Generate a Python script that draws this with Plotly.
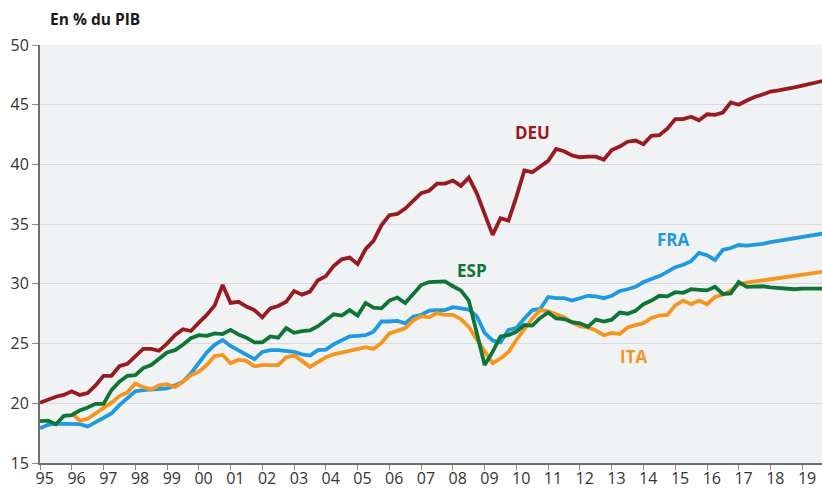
import plotly.graph_objects as go

# Quarterly series, 1995Q1 onwards, in % of GDP
start_year = 1995
n_quarters = 100

deu = [20.05, 20.3, 20.55, 20.7, 21.0, 20.7, 20.85, 21.5, 22.3, 22.3,
       23.1, 23.3, 23.9, 24.55, 24.55, 24.4, 25.0, 25.7, 26.2, 26.05,
       26.75, 27.4, 28.2, 29.9, 28.4, 28.5, 28.1, 27.8, 27.2, 27.95,
       28.15, 28.5, 29.4, 29.1, 29.35, 30.3, 30.65, 31.5, 32.05, 32.2,
       31.65, 32.9, 33.6, 34.9, 35.75, 35.85, 36.3, 36.9, 37.6, 37.8,
       38.4, 38.4, 38.65, 38.2, 38.9, 37.6, 35.9, 34.1, 35.5, 35.3,
       37.3, 39.5, 39.35, 39.85, 40.3, 41.3, 41.1, 40.75, 40.6, 40.65,
       40.65, 40.4, 41.2, 41.5, 41.9, 42.0, 41.7, 42.4, 42.45, 43.0,
       43.8, 43.8, 44.0, 43.7, 44.2, 44.15, 44.35, 45.2, 45.0, 45.35,
       45.65, 45.85, 46.1, 46.2, 46.3, 46.45, 46.6, 46.75, 46.9, 47.05]

fra = [17.9, 18.2, 18.3, 18.3, 18.25, 18.25, 18.05, 18.4, 18.75, 19.15,
       19.85, 20.4, 21.0, 21.1, 21.15, 21.25, 21.25, 21.5, 21.8, 22.5,
       23.35, 24.25, 24.9, 25.3, 24.8, 24.45, 24.05, 23.7, 24.3, 24.45,
       24.45, 24.4, 24.3, 24.1, 24.0, 24.45, 24.5, 24.95, 25.3, 25.6,
       25.65, 25.7, 26.0, 26.85, 26.85, 26.9, 26.7, 27.25, 27.4, 27.75,
       27.8, 27.8, 28.05, 27.95, 27.85, 27.3, 25.9, 25.25, 25.1, 26.15,
       26.3, 27.1, 27.8, 27.9, 28.9, 28.8, 28.8, 28.6, 28.8, 29.0,
       28.95, 28.8, 29.0, 29.4, 29.55, 29.75, 30.15, 30.4, 30.65, 31.0,
       31.4, 31.6, 31.9, 32.6, 32.4, 32.0, 32.85, 33.0, 33.25, 33.2,
       33.25, 33.35, 33.5, 33.6, 33.7, 33.8, 33.95, 34.05, 34.15, 34.25]

esp = [18.5, 18.55, 18.25, 18.95, 19.0, 19.4, 19.65, 19.95, 19.95, 21.1,
       21.8, 22.3, 22.35, 22.95, 23.2, 23.75, 24.25, 24.45, 24.9, 25.45,
       25.7, 25.65, 25.85, 25.8, 26.15, 25.75, 25.5, 25.1, 25.1, 25.6,
       25.5, 26.3, 25.9, 26.05, 26.1, 26.45, 26.95, 27.45, 27.35, 27.8,
       27.35, 28.4, 28.0, 27.95, 28.6, 28.85, 28.4, 29.2, 29.9, 30.15,
       30.2, 30.2, 29.8, 29.45, 28.6, 26.0, 23.2, 24.3, 25.6, 25.7,
       26.0, 26.55, 26.5, 27.15, 27.6, 27.1, 27.05, 26.8, 26.7, 26.4,
       27.0, 26.85, 27.0, 27.6, 27.5, 27.75, 28.3, 28.6, 29.0, 28.95,
       29.3, 29.25, 29.55, 29.5, 29.45, 29.75, 29.15, 29.2, 30.15, 29.75,
       29.75, 29.8, 29.7, 29.65, 29.6, 29.55, 29.6, 29.6, 29.6, 29.6]

# Italy series begins in 1996Q1
ita = [None, None, None, None,
       19.2, 18.55, 18.7, 19.15, 19.6, 20.05,
       20.6, 20.9, 21.65, 21.35, 21.15, 21.5, 21.6, 21.35, 21.8, 22.35,
       22.65, 23.2, 23.95, 24.05, 23.35, 23.65, 23.55, 23.1, 23.2, 23.2,
       23.2, 23.85, 24.0, 23.55, 23.05, 23.45, 23.85, 24.1, 24.25, 24.4,
       24.55, 24.7, 24.55, 25.05, 25.85, 26.1, 26.3, 26.95, 27.3, 27.2,
       27.55, 27.4, 27.4, 27.05, 26.4, 25.35, 24.3, 23.35, 23.75, 24.3,
       25.3, 26.2, 27.1, 27.8, 27.7, 27.45, 27.2, 26.75, 26.45, 26.35,
       26.1, 25.7, 25.9, 25.8, 26.35, 26.55, 26.7, 27.15, 27.35, 27.4,
       28.2, 28.6, 28.3, 28.6, 28.3, 28.9, 29.1, 29.45, 29.95, 30.1,
       30.2, 30.3, 30.4, 30.5, 30.55, 30.65, 30.75, 30.85, 30.95, 31.05]

quarters = [start_year + i / 4 for i in range(n_quarters)]
years = list(range(1995, 2020))
year_labels = [f"{y % 100:02d}" for y in years]
y_ticks = [15, 20, 25, 30, 35, 40, 45, 50]

colors = {
    "DEU": "#971b20",
    "FRA": "#1e9be0",
    "ESP": "#0e7536",
    "ITA": "#f6951e",
}

FONT = "Open Sans"

fig = go.Figure()
for name, values in [("FRA", fra), ("ITA", ita), ("ESP", esp), ("DEU", deu)]:
    fig.add_trace(go.Scatter(
        x=quarters, y=values, mode="lines", name=name,
        line=dict(color=colors[name], width=3.8),
        connectgaps=False, hoverinfo="skip",
    ))

# Series labels placed next to their lines
labels = [
    ("DEU", 2010.52, 42.64),
    ("ESP", 2008.59, 31.08),
    ("FRA", 2014.96, 33.68),
    ("ITA", 2013.70, 23.88),
]
for name, lx, ly in labels:
    fig.add_annotation(
        x=lx, y=ly, text=f"<b>{name}</b>", showarrow=False,
        font=dict(family=FONT, size=17, color=colors[name]),
        xanchor="center", yanchor="middle",
    )

fig.add_annotation(
    xref="paper", yref="paper", x=0.010, y=1.062,
    text="<b>En % du PIB</b>", showarrow=False,
    xanchor="left", yanchor="middle",
    font=dict(family=FONT, size=15.5, color="#1a1a1a"),
)

fig.update_layout(
    width=822, height=491,
    margin=dict(l=40, r=0, t=45, b=28),
    paper_bgcolor="white",
    plot_bgcolor="#f1f2f4",
    showlegend=False,
    font=dict(family=FONT, size=16, color="#333333"),
)

fig.update_xaxes(
    range=[1995.0, 2019.62],
    tickmode="array",
    tickvals=[y + 0.15 for y in years],
    ticktext=year_labels,
    ticks="",
    showgrid=False, zeroline=False,
    showline=True, linecolor="#6e6e6e", linewidth=2,
    tickfont=dict(family=FONT, size=16, color="#333333"),
    minor=dict(tickmode="array", tickvals=years, ticks="outside",
               ticklen=5, tickwidth=1, tickcolor="#8a8a8a", showgrid=False),
)

fig.update_yaxes(
    range=[15, 50],
    tickmode="array", tickvals=y_ticks,
    ticks="outside", ticklen=6, tickwidth=1, tickcolor="#8a8a8a",
    showgrid=True, gridcolor="#d8d9dc", gridwidth=1,
    zeroline=False,
    showline=True, linecolor="#6e6e6e", linewidth=2,
    tickfont=dict(family=FONT, size=16, color="#333333"),
)

fig.write_html("out.html")
